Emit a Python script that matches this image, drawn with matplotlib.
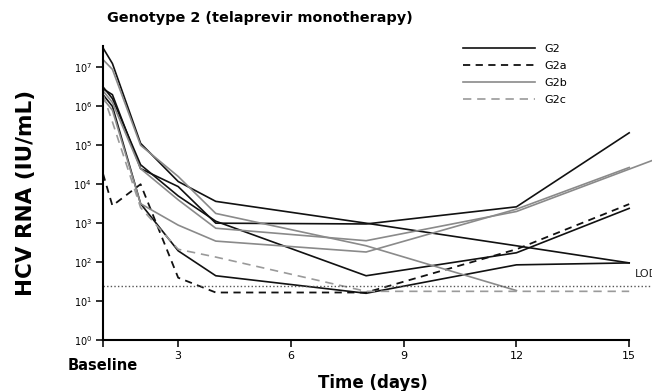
import matplotlib

matplotlib.use("Agg")
import matplotlib.pyplot as plt
import numpy as np

# sampling days (baseline = day 1); NaN = no sample for that patient
days = [1, 1.25, 2, 3, 4, 8, 12, 15, 16]
nan = np.nan

# log10 HCV RNA (IU/mL) per patient, grouped by subtype
g2 = [
    [7.5, 7.1, 5.05, 4.07, 3.56, 3.0, 2.42, 1.98, nan],
    [6.45, 6.3, 4.4, 3.94, 3.0, 2.98, 3.42, 5.32, nan],
    [6.5, 6.2, 4.5, 3.7, 3.05, 1.65, 2.24, 3.38, nan],
    [6.3, 6.0, 3.5, 2.29, 1.65, 1.2, 1.93, 1.98, nan],
]
g2a = [
    [4.27, 3.45, 4.0, 1.6, 1.22, 1.22, 2.33, 3.49, nan],
]
g2b = [
    [7.2, 6.95, 5.0, 4.2, 3.25, 2.42, 1.27, nan, nan],
    [6.4, 6.1, 4.4, 3.6, 2.87, 2.55, 3.3, nan, 4.75],
    [6.2, 5.9, 3.5, 2.95, 2.54, 2.26, 3.36, 4.43, nan],
]
g2c = [
    [6.3, 5.6, 3.4, 2.33, 2.13, 1.25, 1.25, 1.25, nan],
]
lod = 25  # IU/mL

x_ticks = [1, 3, 6, 9, 12, 15]
x_labels = ["Baseline", "3", "6", "9", "12", "15"]
y_exps = list(range(0, 8))

styles = {
    "G2": dict(color="#111111", ls="-", lw=1.2),
    "G2a": dict(color="#111111", ls=(0, (4, 3)), lw=1.3),
    "G2b": dict(color="#8a8a8a", ls="-", lw=1.2),
    "G2c": dict(color="#9a9a9a", ls=(0, (5, 3.5)), lw=1.2),
}

fig = plt.figure(figsize=(6.52, 3.91), dpi=100)
ax = fig.add_axes([0.158, 0.1304, 0.807, 0.752])

d = np.array(days)
for name, group in [("G2", g2), ("G2a", g2a), ("G2b", g2b), ("G2c", g2c)]:
    for i, vals in enumerate(group):
        v = np.array(vals)
        m = ~np.isnan(v)
        ax.plot(d[m], 10 ** v[m], clip_on=False,
                label=name if i == 0 else None, **styles[name])

ax.axhline(lod, color="#555555", ls=(0, (1, 1.6)), lw=1.0, xmin=0, xmax=1.06, clip_on=False)
ax.text(15.15, lod * 1.45, "LOD", fontsize=8, ha="left", va="bottom", color="#222222")

ax.set_yscale("log")
ax.set_ylim(1, 10 ** 7.55)
ax.set_xlim(1, 15)
ax.set_yticks([10 ** e for e in y_exps])
ax.set_yticklabels([f"$10^{{{e}}}$" for e in y_exps], fontsize=7)
ax.yaxis.set_minor_locator(matplotlib.ticker.NullLocator())
ax.set_xticks(x_ticks)
ax.set_xticklabels(x_labels, fontsize=8)
lbl = ax.get_xticklabels()[0]
lbl.set_fontweight("bold")
lbl.set_fontsize(10.5)
lbl.set_y(-0.025)

for s in ("top", "right"):
    ax.spines[s].set_visible(False)
for s in ("left", "bottom"):
    ax.spines[s].set_linewidth(1.5)
ax.tick_params(axis="both", length=5, width=1.3, color="#222222", pad=3)

ax.set_ylabel("HCV RNA (IU/mL)", fontsize=15.5, fontweight="bold")
ax.yaxis.set_label_coords(-0.128, 0.5)
ax.set_xlabel("Time (days)", fontsize=12, fontweight="bold")
ax.xaxis.set_label_coords(0.513, -0.115)
fig.text(0.164, 0.953, "Genotype 2 (telaprevir monotherapy)", fontsize=10.4,
         fontweight="bold", va="center")

ax.legend(loc="upper left", bbox_to_anchor=(0.665, 1.04), frameon=False,
          fontsize=8, handlelength=6.5, handletextpad=0.8, labelspacing=0.62)

fig.savefig("out.png", dpi=100)
